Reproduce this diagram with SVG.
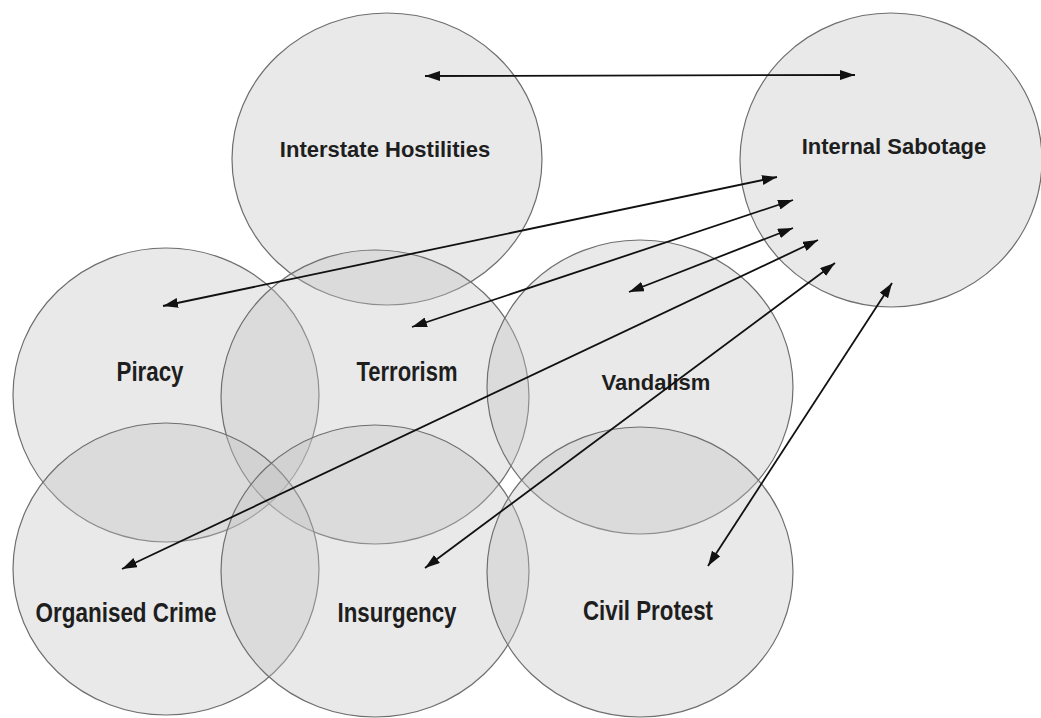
<svg xmlns="http://www.w3.org/2000/svg" width="1041" height="718" viewBox="0 0 1041 718">
<style>
.c{fill:#c4c4c4;fill-opacity:0.37;stroke:#6e6e6e;stroke-width:1.2}
.t{font-family:"Liberation Sans",Arial,sans-serif;font-weight:bold;font-size:22px;fill:#1e1e1e;text-anchor:middle}
.n{font-family:"Liberation Sans",Arial,sans-serif;font-weight:bold;font-size:27px;fill:#1e1e1e;text-anchor:middle}
.a{stroke:#111;stroke-width:1.8;fill:none;marker-start:url(#ah);marker-end:url(#ah)}
</style>
<defs>
<marker id="ah" viewBox="0 0 12 8" refX="12" refY="4" markerWidth="15" markerHeight="10" markerUnits="userSpaceOnUse" orient="auto-start-reverse">
<path d="M0,0 L12,4 L0,8 Z" fill="#111"/>
</marker>
</defs>
<rect width="1041" height="718" fill="#fff"/>
<g id="interstate-hostilities"><ellipse class="c" cx="387" cy="159" rx="155" ry="146"/><text class="t" x="385" y="157">Interstate Hostilities</text></g>
<g id="internal-sabotage"><ellipse class="c" cx="891" cy="160" rx="151" ry="147"/><text class="t" x="894" y="154">Internal Sabotage</text></g>
<g id="piracy"><ellipse class="c" cx="166" cy="395" rx="153" ry="147"/><text class="n" x="150" y="381" textLength="67" lengthAdjust="spacingAndGlyphs">Piracy</text></g>
<g id="terrorism"><ellipse class="c" cx="375" cy="397" rx="154" ry="147"/><text class="n" x="407" y="381" textLength="101" lengthAdjust="spacingAndGlyphs">Terrorism</text></g>
<g id="vandalism"><ellipse class="c" cx="640" cy="387" rx="153" ry="147"/><text class="t" x="656" y="390">Vandalism</text></g>
<g id="organised-crime"><ellipse class="c" cx="166" cy="569" rx="153" ry="146"/><text class="n" x="126" y="622" textLength="181" lengthAdjust="spacingAndGlyphs">Organised Crime</text></g>
<g id="insurgency"><ellipse class="c" cx="375" cy="571" rx="154" ry="146"/><text class="n" x="397" y="622" textLength="119" lengthAdjust="spacingAndGlyphs">Insurgency</text></g>
<g id="civil-protest"><ellipse class="c" cx="640" cy="572" rx="153" ry="145"/><text class="n" x="648" y="620" textLength="130" lengthAdjust="spacingAndGlyphs">Civil Protest</text></g>
<g id="connectors">
<line class="a" x1="425" y1="76" x2="855" y2="75"/>
<line class="a" x1="163" y1="306" x2="777" y2="177"/>
<line class="a" x1="412" y1="327" x2="793" y2="200"/>
<line class="a" x1="629" y1="292" x2="793" y2="228"/>
<line class="a" x1="122" y1="569" x2="818" y2="240"/>
<line class="a" x1="425" y1="568" x2="835" y2="263"/>
<line class="a" x1="708" y1="566" x2="892" y2="283"/>
</g>
</svg>
